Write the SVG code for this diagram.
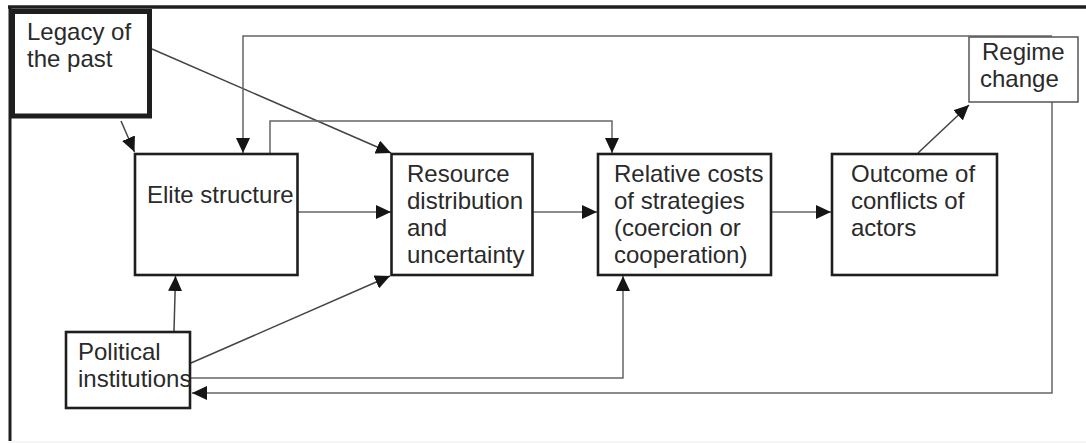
<svg xmlns="http://www.w3.org/2000/svg" width="1086" height="443" viewBox="0 0 1086 443">
<style>
.box{fill:#fff;stroke:#1e1e1e;stroke-width:2.6}
.thin{fill:#fff;stroke:#555;stroke-width:1.5}
.lbl{font-family:"Liberation Sans",Arial,sans-serif;font-size:24px;fill:#2a2a2a}
.con{fill:none;stroke:#444;stroke-width:1.5}
.con2{fill:none;stroke:#666;stroke-width:1.5}
</style>
<defs>
<marker id="ah" markerUnits="userSpaceOnUse" markerWidth="16" markerHeight="14" refX="15" refY="7" orient="auto">
<path d="M0,0 L15,7 L0,14 z" fill="#151515"/>
</marker>
</defs>
<rect width="1086" height="443" fill="#fff"/>
<g id="frame">
<line x1="8" y1="7" x2="1086" y2="7" stroke="#1e1e1e" stroke-width="3.5"/>
<line x1="10" y1="6" x2="10" y2="441" stroke="#1e1e1e" stroke-width="3"/>
<line x1="10" y1="442" x2="1086" y2="442" stroke="#ececec" stroke-width="1"/>
</g>
<g id="connectors">
<path class="con" d="M121,121 L134.5,152" marker-end="url(#ah)"/>
<path class="con" d="M152,49 L391,153" marker-end="url(#ah)"/>
<path class="con2" d="M1052,36 H243 V153" marker-end="url(#ah)"/>
<path class="con2" d="M270,153 V121 H612 V153" marker-end="url(#ah)"/>
<path class="con2" d="M298,212 H391" marker-end="url(#ah)"/>
<path class="con2" d="M533,212 H597" marker-end="url(#ah)"/>
<path class="con2" d="M772,212 H831" marker-end="url(#ah)"/>
<path class="con" d="M918,153 L969,105" marker-end="url(#ah)"/>
<path class="con" d="M174,331 L175.5,276" marker-end="url(#ah)"/>
<path class="con" d="M191,363 L390,276" marker-end="url(#ah)"/>
<path class="con2" d="M191,378 H623 V276" marker-end="url(#ah)"/>
<path class="con2" d="M1052,102 V393 H192" marker-end="url(#ah)"/>
</g>
<g id="legacy">
<rect x="12.5" y="11.5" width="137" height="104.5" fill="#fff" stroke="#1e1e1e" stroke-width="5"/>
<text class="lbl" x="27" y="40">Legacy of</text>
<text class="lbl" x="27" y="67">the past</text>
</g>
<g id="elite">
<rect class="box" x="135" y="154" width="162.5" height="121"/>
<text class="lbl" x="147" y="203">Elite structure</text>
</g>
<g id="resource">
<rect class="box" x="391.5" y="154" width="141" height="121"/>
<text class="lbl" x="407" y="182">Resource</text>
<text class="lbl" x="407" y="209">distribution</text>
<text class="lbl" x="407" y="236">and</text>
<text class="lbl" x="407" y="263">uncertainty</text>
</g>
<g id="relative">
<rect class="box" x="598" y="154" width="173" height="121"/>
<text class="lbl" x="614" y="182">Relative costs</text>
<text class="lbl" x="614" y="209">of strategies</text>
<text class="lbl" x="614" y="236">(coercion or</text>
<text class="lbl" x="614" y="263">cooperation)</text>
</g>
<g id="outcome">
<rect class="box" x="832" y="154" width="165" height="121"/>
<text class="lbl" x="851" y="182">Outcome of</text>
<text class="lbl" x="851" y="209">conflicts of</text>
<text class="lbl" x="851" y="236">actors</text>
</g>
<g id="regime">
<rect class="thin" x="969" y="37" width="109" height="65"/>
<text class="lbl" x="982" y="60">Regime</text>
<text class="lbl" x="980" y="87">change</text>
</g>
<g id="political">
<rect class="box" x="66" y="332" width="124" height="76"/>
<text class="lbl" x="78" y="360">Political</text>
<text class="lbl" x="78" y="387">institutions</text>
</g>
</svg>
